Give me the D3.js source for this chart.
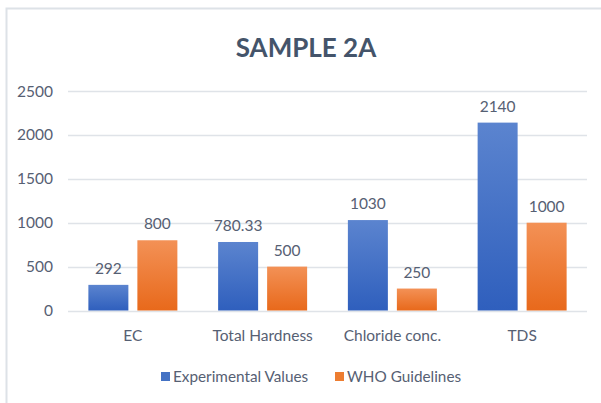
<!DOCTYPE html>
<html><head><meta charset="utf-8">
<script src="https://cdn.jsdelivr.net/npm/d3@7"></script>
<style>body{margin:0;background:#fff;} svg{display:block;}</style>
</head><body>
<svg id="chart" width="601" height="403"></svg>
<script>
const categories = ["EC", "Total Hardness", "Chloride conc.", "TDS"];
const experimental = [292, 780.33, 1030, 2140];
const who = [800, 500, 250, 1000];
const seriesNames = ["Experimental Values", "WHO Guidelines"];
const yTicks = [0, 500, 1000, 1500, 2000, 2500];
const labels = [["292","780.33","1030","2140"],["800","500","250","1000"]];

const svg = d3.select("#chart");
const font = "Lato, 'Open Sans', sans-serif";
const txt = "#566073";
// border
svg.append("path").attr("d","M6.5,403 V8.5 H601").attr("fill","none").attr("stroke","#dde2e7").attr("stroke-width",2);

const defs = svg.append("defs");
const grads = [["gBlue","#5b84cf","#2f5fbd"],["gOrange","#f39156","#e8691b"]];
grads.forEach(([id,a,b])=>{
  const g = defs.append("linearGradient").attr("id",id).attr("x1",0).attr("y1",0).attr("x2",0).attr("y2",1);
  g.append("stop").attr("offset","0%").attr("stop-color",a);
  g.append("stop").attr("offset","100%").attr("stop-color",b);
});

const x0 = d3.scaleBand().domain(categories).range([68,587]);
const y = d3.scaleLinear().domain([0,2500]).range([310.5,91]);

svg.append("text").attr("x",306).attr("y",57).attr("text-anchor","middle")
  .attr("font-family",font).attr("font-weight","bold").attr("font-size",26)
  .attr("fill","#44546a").text("SAMPLE 2A");

// gridlines
svg.append("g").selectAll("line").data(yTicks).join("line")
  .attr("x1",68).attr("x2",587).attr("y1",d=>Math.round(y(d))+0.5).attr("y2",d=>Math.round(y(d))+0.5)
  .attr("stroke","#dfe3e8").attr("stroke-width",1.5);
svg.append("g").selectAll("text").data(yTicks).join("text")
  .attr("x",53).attr("y",d=>y(d)+5.5).attr("text-anchor","end")
  .attr("font-family",font).attr("font-size",15.5).attr("fill",txt).text(d=>d);

const barW = 40, gap = 9;
const series = [experimental, who];
series.forEach((vals,si)=>{
  const g = svg.append("g");
  g.selectAll("rect").data(vals).join("rect")
    .attr("x",(d,i)=>x0(categories[i]) + x0.bandwidth()/2 + (si===0 ? -gap/2-barW : gap/2))
    .attr("y",d=>y(d)).attr("width",barW).attr("height",d=>y(0)-y(d))
    .attr("fill",`url(#${grads[si][0]})`);
  g.selectAll("text").data(vals).join("text")
    .attr("x",(d,i)=>x0(categories[i]) + x0.bandwidth()/2 + (si===0 ? -gap/2-barW/2 : gap/2+barW/2))
    .attr("y",d=>y(d)-11).attr("text-anchor","middle")
    .attr("font-family",font).attr("font-size",15.5).attr("fill",txt)
    .text((d,i)=>labels[si][i]);
});

svg.append("g").selectAll("text").data(categories).join("text")
  .attr("x",d=>x0(d)+x0.bandwidth()/2).attr("y",341).attr("text-anchor","middle")
  .attr("font-family",font).attr("font-size",15.5).attr("fill",txt).text(d=>d);

// legend
const leg = [{name:seriesNames[0],c:"#4472c4",x:161},{name:seriesNames[1],c:"#ed7d31",x:335}];
leg.forEach(l=>{
  svg.append("rect").attr("x",l.x).attr("y",372).attr("width",9).attr("height",9).attr("fill",l.c);
  svg.append("text").attr("x",l.x+12).attr("y",382).attr("font-family",font).attr("font-size",15.3)
    .attr("fill",txt).text(l.name);
});
</script>
</body></html>
